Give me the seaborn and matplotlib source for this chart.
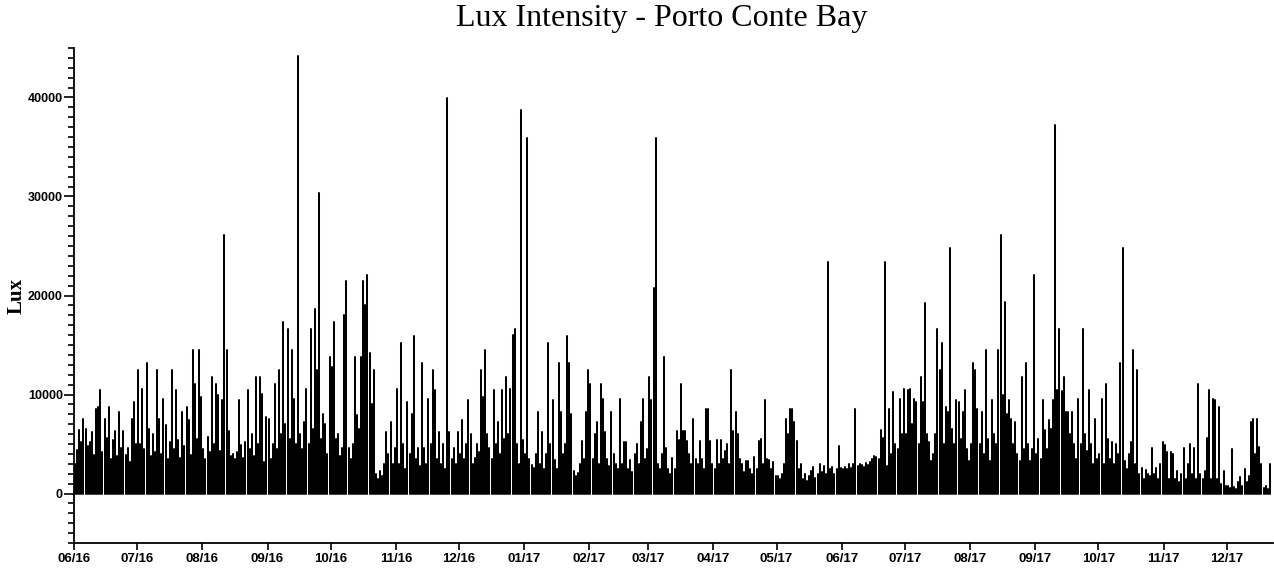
import numpy as np
import pandas as pd
import matplotlib
matplotlib.use("Agg")
import matplotlib.pyplot as plt
import matplotlib.dates as mdates
from matplotlib.ticker import MultipleLocator
import seaborn as sns

# ---- daily lux peaks (one list per month) ----
jun16 = [3000, 4400, 6400, 5200, 7560, 6550, 4800, 5200, 6200, 3900, 8580, 8750, 10430, 4200, 7560,
         5600, 8750, 3500, 5370, 6300, 3800, 8240, 4600, 6300, 3900, 4600, 3200, 7560, 9250, 5000]
jul16 = [12460, 5000, 10600, 4500, 13140, 6550, 3800, 6000, 4200, 12460, 7560, 4000, 9590, 6900, 3500,
         5200, 12460, 4500, 10430, 5370, 3600, 8240, 4800, 8750, 7400, 3900, 14490, 11110, 5500, 14490, 9760]
aug16 = [4500, 3500, 5700, 4200, 11790, 5000, 11110, 9930, 4300, 9420, 26140, 14490, 6300, 3800, 4000,
         3500, 4200, 9420, 4900, 3600, 5200, 10430, 4500, 6000, 3800, 11790, 5000, 11790, 10100, 3200, 7700]
sep16 = [7560, 3500, 5000, 11110, 4500, 12460, 6000, 17290, 7000, 16620, 5500, 14490, 9590, 5000, 44200,
         6000, 4500, 7200, 10600, 5000, 16620, 6500, 18640, 12460, 30360, 5500, 8000, 7000, 4000, 13810]
oct16 = [12800, 17290, 5500, 6000, 3800, 4600, 18030, 21510, 4600, 3500, 5000, 13810, 7900, 6500, 13810,
         21510, 19000, 22090, 14150, 9000, 12460, 2000, 1500, 2300, 1800, 3000, 6200, 4000, 7200, 3000, 4600]
nov16 = [10600, 3000, 15160, 5000, 2500, 9250, 4000, 8000, 15940, 3500, 4600, 2800, 13140, 4600, 3000,
         9590, 5000, 12460, 10430, 3500, 6200, 3000, 5000, 2500, 39980, 6200, 3500, 4600, 3000, 6200]
dec16 = [4000, 7390, 3500, 5000, 9420, 6000, 3000, 3600, 5000, 4200, 12460, 9760, 14490, 6000, 4600,
         3500, 10430, 5000, 7200, 4000, 10430, 5500, 11790, 6000, 10600, 16000, 16620, 5000, 3000, 38700, 5400]
jan17 = [4000, 35860, 3500, 2900, 2600, 4000, 8240, 3000, 6200, 2500, 4000, 15160, 5000, 9420, 3400,
         2500, 13140, 8240, 4000, 5000, 15940, 13140, 8000, 2300, 1800, 2100, 3000, 5300, 3500, 8240, 12460]
feb17 = [11110, 3500, 6000, 7200, 3000, 11110, 9590, 6200, 3500, 2800, 8240, 4000, 3000, 2500, 9590,
         3000, 5200, 5200, 2500, 3400, 2200, 4000, 5000, 3000, 7200, 9590, 3500, 4500]
mar17 = [11790, 9420, 20730, 35860, 3000, 2500, 4000, 13810, 4600, 2500, 2000, 3600, 2500, 6300, 5400,
         11110, 6300, 6300, 5300, 4000, 3000, 7560, 3500, 3000, 5300, 3500, 2500, 8580, 8580, 5300, 3000]
apr17 = [2500, 5400, 3000, 5400, 3500, 4300, 5000, 3000, 12460, 6300, 8240, 6000, 3500, 3000, 2200,
         3300, 3300, 2500, 2000, 3700, 2500, 5300, 5500, 3000, 9420, 3500, 3400, 2500, 3200, 1800]
may17 = [1800, 1500, 2000, 3000, 7560, 6000, 8580, 8580, 7200, 5300, 2500, 3000, 1500, 2000, 1300,
         1800, 2300, 2700, 1600, 2000, 3000, 2200, 2800, 2000, 23430, 2500, 2700, 2000, 2500, 4800, 2600]
jun17 = [2500, 2700, 2500, 3000, 2600, 3000, 8580, 2800, 3000, 2900, 2700, 3100, 2900, 3200, 3500,
         3800, 3700, 3500, 6380, 5600, 23430, 2800, 8580, 4000, 10260, 5000, 4500, 9590, 6000, 10600]
jul17 = [6000, 10430, 10600, 7000, 9590, 9250, 5000, 11790, 9250, 19210, 6000, 5200, 3300, 4000, 6000,
         16620, 12460, 15160, 5000, 8750, 8240, 24780, 6550, 5000, 9420, 9250, 5500, 8240, 10430, 4500, 3300]
aug17 = [5000, 13140, 12460, 8580, 5000, 8240, 4000, 14490, 5500, 3300, 9420, 6000, 5000, 14490, 26140,
         10000, 19300, 8000, 9420, 7560, 5000, 7200, 4000, 3300, 11790, 4500, 13140, 5000, 3300, 4500, 22090]
sep17 = [4000, 5500, 3500, 9420, 6380, 4500, 7390, 6550, 9420, 37180, 10430, 16620, 10400, 11790, 8240,
         8240, 6000, 8240, 5000, 3500, 9590, 5000, 16620, 6000, 4300, 10430, 5000, 3000, 7560, 3500]
oct17 = [4000, 9590, 3000, 11110, 5500, 3500, 5200, 3000, 5000, 4000, 13140, 24780, 3300, 2500, 4000,
         5200, 14490, 3000, 12460, 2000, 2600, 1500, 2400, 2000, 1800, 4600, 2000, 2600, 1500, 3000, 5200]
nov17 = [4900, 4200, 1500, 4200, 4000, 1500, 2300, 1200, 2000, 4600, 1500, 3000, 5000, 2000, 4600,
         1500, 11110, 2000, 1500, 2300, 5600, 10430, 1500, 9590, 9420, 1500, 8750, 1000, 2300, 800]
dec17 = [800, 600, 4500, 700, 500, 1200, 1650, 800, 2500, 1200, 1800, 7200, 7560, 4000, 7560,
         4700, 3000, 600, 800, 500, 3000]

month_labels_fmt = "%m/%y"
title_text = "Lux Intensity - Porto Conte Bay"
y_label = "Lux"

lux = (jun16 + jul16 + aug16 + sep16 + oct16 + nov16 + dec16 + jan17 + feb17 + mar17 + apr17
       + may17 + jun17 + jul17 + aug17 + sep17 + oct17 + nov17 + dec17)
n = len(lux)
dates = pd.date_range("2016-06-01", periods=n, freq="D") + pd.Timedelta(hours=12)

# long table: each day is a vertical stroke from 0 to its value
df = pd.DataFrame({
    "date": np.repeat(dates.values, 2),
    "lux": np.ravel(np.column_stack([np.zeros(n), np.array(lux, dtype=float)])),
    "day": np.repeat(np.arange(n), 2),
})

sns.set_theme(style="ticks")
plt.rcParams["font.family"] = ["Liberation Sans", "DejaVu Sans"]
plt.rcParams.update({
    "axes.edgecolor": "black", "xtick.color": "black", "ytick.color": "black",
    "text.color": "black", "axes.labelcolor": "black", "font.weight": "bold",
})

fig = plt.figure(figsize=(12.74, 5.68), dpi=100)
ax = fig.add_axes([0.0581, 0.044, 0.9411, 0.8715])

sns.lineplot(data=df, x="date", y="lux", units="day", estimator=None, sort=False,
             color="black", linewidth=1.45, ax=ax, legend=False)

ax.set_xlim(pd.Timestamp("2016-06-01"), pd.Timestamp("2017-12-23"))
ax.set_ylim(-5000, 45000)
ax.xaxis.set_major_locator(mdates.MonthLocator())
ax.xaxis.set_major_formatter(mdates.DateFormatter(month_labels_fmt))
ax.yaxis.set_major_locator(MultipleLocator(10000))
ax.yaxis.set_minor_locator(MultipleLocator(1000))
ax.yaxis.set_major_formatter(matplotlib.ticker.FuncFormatter(lambda v, p: f"{int(v)}"))

ax.tick_params(axis="y", which="major", length=7, width=1.2, pad=1, labelsize=9)
ax.tick_params(axis="y", which="minor", length=4, width=1.2)
ax.tick_params(axis="x", which="major", length=5, width=1.2, pad=2, labelsize=9.5)
for s in ("left", "bottom"):
    ax.spines[s].set_linewidth(1.3)
sns.despine(ax=ax)
ax.set_xlabel("")
ax.set_ylabel("")

fig.text(0.519, 0.967, title_text, family="Liberation Serif", fontsize=23,
         fontweight="normal", ha="center", va="center")
fig.text(17 / 1274, 1 - 296 / 568, y_label, family="Liberation Serif", fontsize=15,
         fontweight="bold", rotation=90, ha="center", va="center")

fig.savefig("out.png", dpi=100)
